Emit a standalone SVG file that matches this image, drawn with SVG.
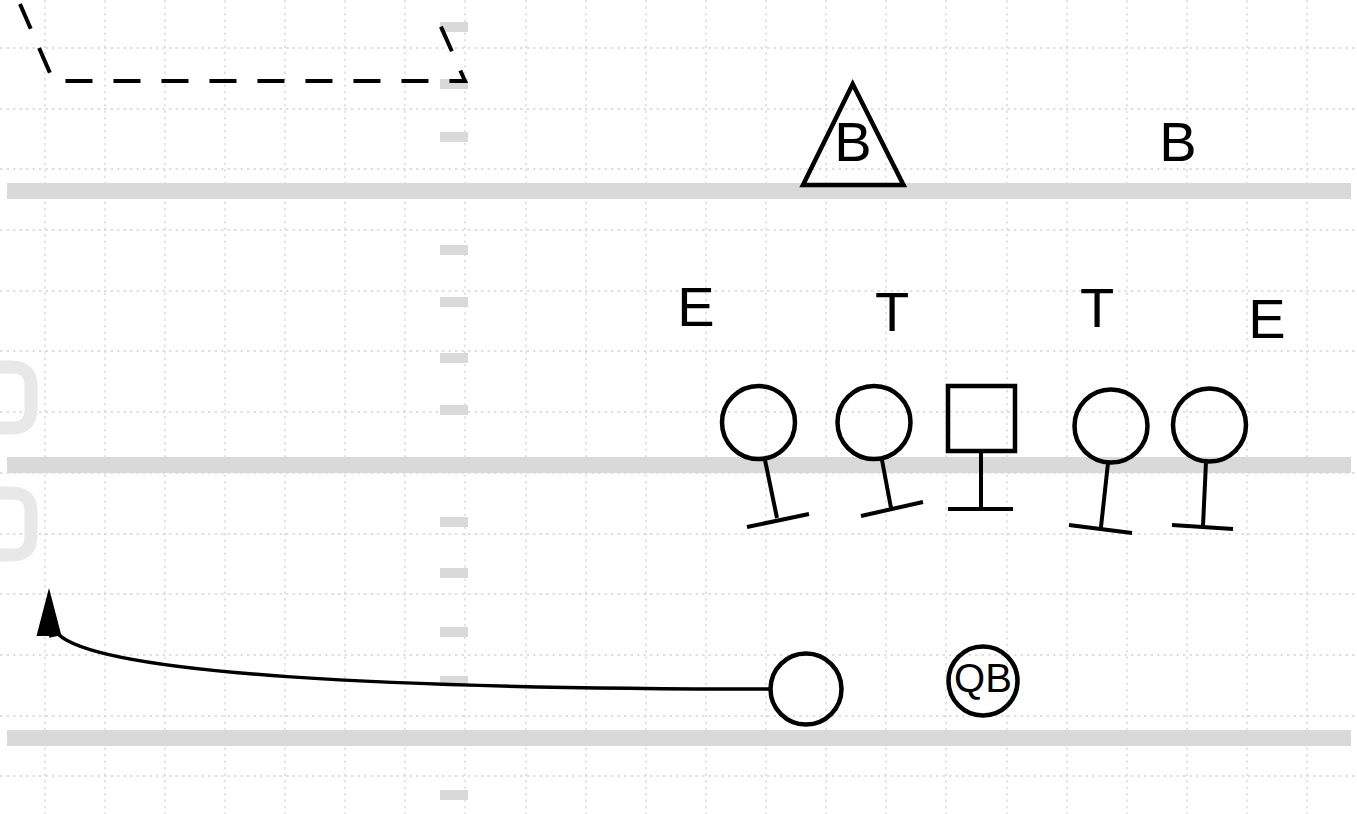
<svg xmlns="http://www.w3.org/2000/svg" width="1357" height="814" viewBox="0 0 1357 814">
<style>
.grid line{stroke:#d6d6d6;stroke-width:1.3;stroke-dasharray:2.5 4}
.yard{fill:#d9d9d9}
.hash{fill:#d9d9d9}
.num{fill:none;stroke:#e8e8e8;stroke-width:13}
.p{fill:none;stroke:#000;stroke-width:4.5}
.blk{fill:none;stroke:#000;stroke-width:4;stroke-linecap:butt}
.lbl{font-family:"Liberation Sans",Arial,sans-serif;font-size:56px;fill:#000;text-anchor:middle}
.qb{font-family:"Liberation Sans",Arial,sans-serif;font-size:40px;fill:#000;text-anchor:middle}
.route{fill:none;stroke:#000;stroke-width:3.5}
</style>
<defs>
<marker id="arr" markerUnits="userSpaceOnUse" markerWidth="48" markerHeight="26" viewBox="0 0 46 24" refX="0" refY="12" orient="270">
<path d="M0,0 L46,12 L0,24 Z" fill="#000"/>
</marker>
</defs>
<rect width="1357" height="814" fill="#fff"/>
<g id="field">
<g class="grid">
<line x1="45" y1="0" x2="45" y2="814"/><line x1="105" y1="0" x2="105" y2="814"/><line x1="165" y1="0" x2="165" y2="814"/><line x1="225" y1="0" x2="225" y2="814"/><line x1="285" y1="0" x2="285" y2="814"/><line x1="345" y1="0" x2="345" y2="814"/><line x1="405" y1="0" x2="405" y2="814"/><line x1="465" y1="0" x2="465" y2="814"/><line x1="526" y1="0" x2="526" y2="814"/><line x1="586" y1="0" x2="586" y2="814"/><line x1="646" y1="0" x2="646" y2="814"/><line x1="706" y1="0" x2="706" y2="814"/><line x1="766" y1="0" x2="766" y2="814"/><line x1="826" y1="0" x2="826" y2="814"/><line x1="886" y1="0" x2="886" y2="814"/><line x1="946" y1="0" x2="946" y2="814"/><line x1="1007" y1="0" x2="1007" y2="814"/><line x1="1067" y1="0" x2="1067" y2="814"/><line x1="1127" y1="0" x2="1127" y2="814"/><line x1="1187" y1="0" x2="1187" y2="814"/><line x1="1247" y1="0" x2="1247" y2="814"/><line x1="1307" y1="0" x2="1307" y2="814"/>
<line x1="0" y1="48" x2="1357" y2="48"/><line x1="0" y1="109" x2="1357" y2="109"/><line x1="0" y1="169" x2="1357" y2="169"/><line x1="0" y1="230" x2="1357" y2="230"/><line x1="0" y1="291" x2="1357" y2="291"/><line x1="0" y1="351" x2="1357" y2="351"/><line x1="0" y1="412" x2="1357" y2="412"/><line x1="0" y1="473" x2="1357" y2="473"/><line x1="0" y1="534" x2="1357" y2="534"/><line x1="0" y1="594" x2="1357" y2="594"/><line x1="0" y1="655" x2="1357" y2="655"/><line x1="0" y1="716" x2="1357" y2="716"/><line x1="0" y1="776" x2="1357" y2="776"/>
</g>
<rect class="yard" x="7" y="183" width="1344" height="16"/>
<rect class="yard" x="7" y="457" width="1344" height="16"/>
<rect class="yard" x="7" y="730" width="1344" height="16"/>
<rect class="hash" x="440" y="22" width="28" height="10"/>
<rect class="hash" x="440" y="79" width="28" height="10"/>
<rect class="hash" x="440" y="132" width="28" height="10"/>
<rect class="hash" x="440" y="245" width="28" height="10"/>
<rect class="hash" x="440" y="297" width="28" height="10"/>
<rect class="hash" x="440" y="353" width="28" height="10"/>
<rect class="hash" x="440" y="405" width="28" height="10"/>
<rect class="hash" x="440" y="517" width="28" height="10"/>
<rect class="hash" x="440" y="568" width="28" height="10"/>
<rect class="hash" x="440" y="627" width="28" height="10"/>
<rect class="hash" x="440" y="676" width="28" height="10"/>
<rect class="hash" x="440" y="790" width="28" height="10"/>
<path class="num" d="M-5,367 H12 Q31,367 31,386 V409 Q31,428 12,428 H-5"/>
<path class="num" d="M-5,493 H12 Q31,493 31,512 V536 Q31,555 12,555 H-5"/>
<path d="M20,4 L53.4,81 L465,81 L438,20" fill="none" stroke="#000" stroke-width="4" stroke-dasharray="27 21"/>
</g>
<g id="connectors">
<path class="route" d="M770,689 C400,689 100,675 58,634 L49,636" marker-end="url(#arr)"/>
</g>
<g id="backer-left">
<path d="M852.7,84 L803,185 L903.5,185 Z" fill="none" stroke="#000" stroke-width="4.5" stroke-linejoin="miter"/>
<text class="lbl" x="853" y="161">B</text>
</g>
<g id="backer-right"><text class="lbl" x="1178" y="161">B</text></g>
<g id="end-left"><text class="lbl" x="696" y="326">E</text></g>
<g id="tackle-left"><text class="lbl" x="892" y="331">T</text></g>
<g id="tackle-right"><text class="lbl" x="1097" y="327">T</text></g>
<g id="end-right"><text class="lbl" x="1267" y="338">E</text></g>
<g id="lineman-1">
<circle class="p" cx="758.5" cy="422.5" r="36.5"/>
<path class="blk" d="M765,460 L777,518 M747,527 L809,514"/>
</g>
<g id="lineman-2">
<circle class="p" cx="874" cy="422.5" r="36.5"/>
<path class="blk" d="M882,460 L891,508 M861,516 L923,502"/>
</g>
<g id="center">
<rect class="p" x="948" y="386" width="67" height="65"/>
<path class="blk" d="M981,453 L981,509 M948,509 L1013,509"/>
</g>
<g id="lineman-4">
<circle class="p" cx="1111" cy="426" r="36.5"/>
<path class="blk" d="M1108,463 L1101,527 M1069,525 L1132,533"/>
</g>
<g id="lineman-5">
<circle class="p" cx="1209.5" cy="425" r="36.5"/>
<path class="blk" d="M1206,462 L1203,526 M1172,525 L1233,529"/>
</g>
<g id="running-back">
<circle class="p" cx="806" cy="689" r="35.5"/>
</g>
<g id="quarterback">
<circle class="p" cx="983" cy="681" r="34.5"/>
<text class="qb" x="983" y="692">QB</text>
</g>
</svg>
